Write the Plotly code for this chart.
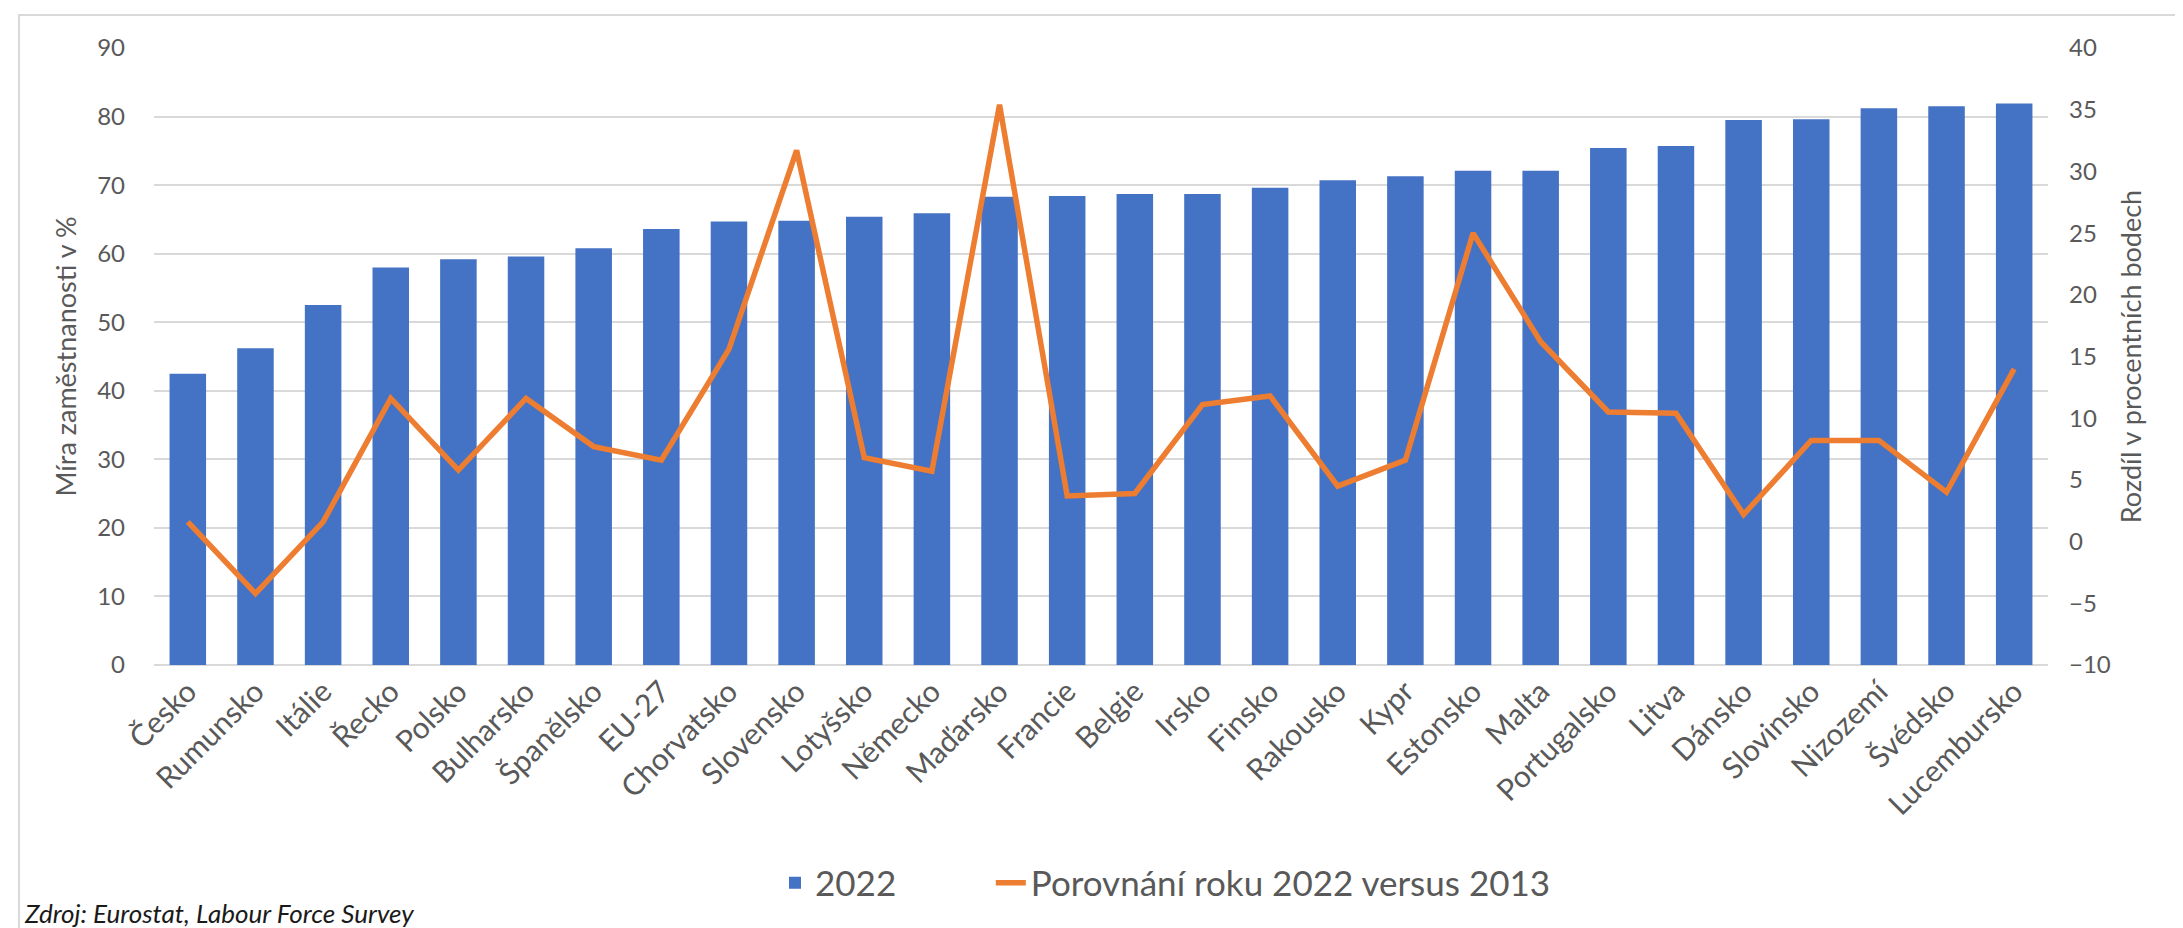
import plotly.graph_objects as go

# countries ordered by employment rate 2022
countries = ["Česko", "Rumunsko", "Itálie", "Řecko", "Polsko", "Bulharsko", "Španělsko",
             "EU-27", "Chorvatsko", "Slovensko", "Lotyšsko", "Německo", "Maďarsko",
             "Francie", "Belgie", "Irsko", "Finsko", "Rakousko", "Kypr", "Estonsko",
             "Malta", "Portugalsko", "Litva", "Dánsko", "Slovinsko", "Nizozemí",
             "Švédsko", "Lucembursko"]

rate_2022 = [42.5, 46.2, 52.5, 58.0, 59.2, 59.6, 60.8, 63.6, 64.7, 64.8, 65.4, 65.9,
             68.3, 68.4, 68.7, 68.7, 69.6, 70.7, 71.3, 72.1, 72.1, 75.4, 75.7, 79.5,
             79.6, 81.2, 81.5, 81.9]

diff_2022_2013 = [1.6, -4.2, 1.6, 11.6, 5.8, 11.6, 7.7, 6.6, 15.6, 31.7, 6.8, 5.7,
                  35.4, 3.7, 3.9, 11.1, 11.8, 4.5, 6.6, 25.0, 16.2, 10.5, 10.4, 2.2,
                  8.2, 8.2, 4.0, 14.0]

left_ticks = list(range(0, 91, 10))
right_ticks = list(range(-10, 41, 5))

FONT = "Lato"
GREY = "#595959"

fig = go.Figure()
# non-breaking spaces widen the gap between the two legend entries
fig.add_trace(go.Bar(x=countries, y=rate_2022, name="2022" + "\u00a0" * 10,
                     marker=dict(color="#4472C4", line=dict(width=0))))
fig.add_trace(go.Scatter(x=countries, y=diff_2022_2013, name="Porovnání roku 2022 versus 2013",
                         mode="lines", yaxis="y2",
                         line=dict(color="#ED7D31", width=5.5)))

# plot area in pixels: x 146..2040, y 40..657
L, R, T, B = 146, 143, 40, 271
W, H = 2183 - L - R, 928 - T - B


def px(x):
    return (x - L) / W


def py(y):
    return (928 - B - y) / H


fig.update_layout(
    width=2183, height=928,
    margin=dict(l=L, r=R, t=T, b=B),
    paper_bgcolor="white", plot_bgcolor="white",
    font=dict(family=FONT, color=GREY, size=24),
    bargap=0.46,
    showlegend=True,
    legend=dict(orientation="h", x=px(1548), xanchor="right", y=py(875), yanchor="middle",
                font=dict(size=35, color=GREY)),
    xaxis=dict(tickangle=-45, tickfont=dict(size=30, color=GREY), showline=False,
               showgrid=False, ticks="", ticklabelstandoff=2),
    yaxis=dict(range=[0, 90], tickvals=left_ticks, showgrid=True, gridcolor="#D9D9D9",
               gridwidth=1.5, zeroline=True, zerolinecolor="#D9D9D9", zerolinewidth=1.5,
               tickfont=dict(size=24, color=GREY), ticklabelstandoff=28,
               title=dict(text="Míra zaměstnanosti v %", font=dict(size=27, color=GREY),
                          standoff=12)),
    yaxis2=dict(range=[-10, 40], tickvals=right_ticks, overlaying="y", side="right",
                showgrid=False, zeroline=False,
                tickfont=dict(size=24, color=GREY), ticklabelstandoff=20,
                title=dict(text="Rozdíl v procentních bodech", font=dict(size=27, color=GREY),
                           standoff=12)),
    shapes=[dict(type="rect", xref="paper", yref="paper",
                 x0=px(11), x1=px(2176), y0=py(935), y1=py(7),
                 line=dict(color="#D9D9D9", width=2), layer="below")],
    annotations=[dict(text="<i>Zdroj: Eurostat, Labour Force Survey</i>",
                      xref="paper", yref="paper", x=px(14), y=py(905),
                      xanchor="left", yanchor="middle", showarrow=False,
                      font=dict(size=26, color="#1a1a1a", family=FONT, weight="normal"))],
)

fig.write_html("out.html")
